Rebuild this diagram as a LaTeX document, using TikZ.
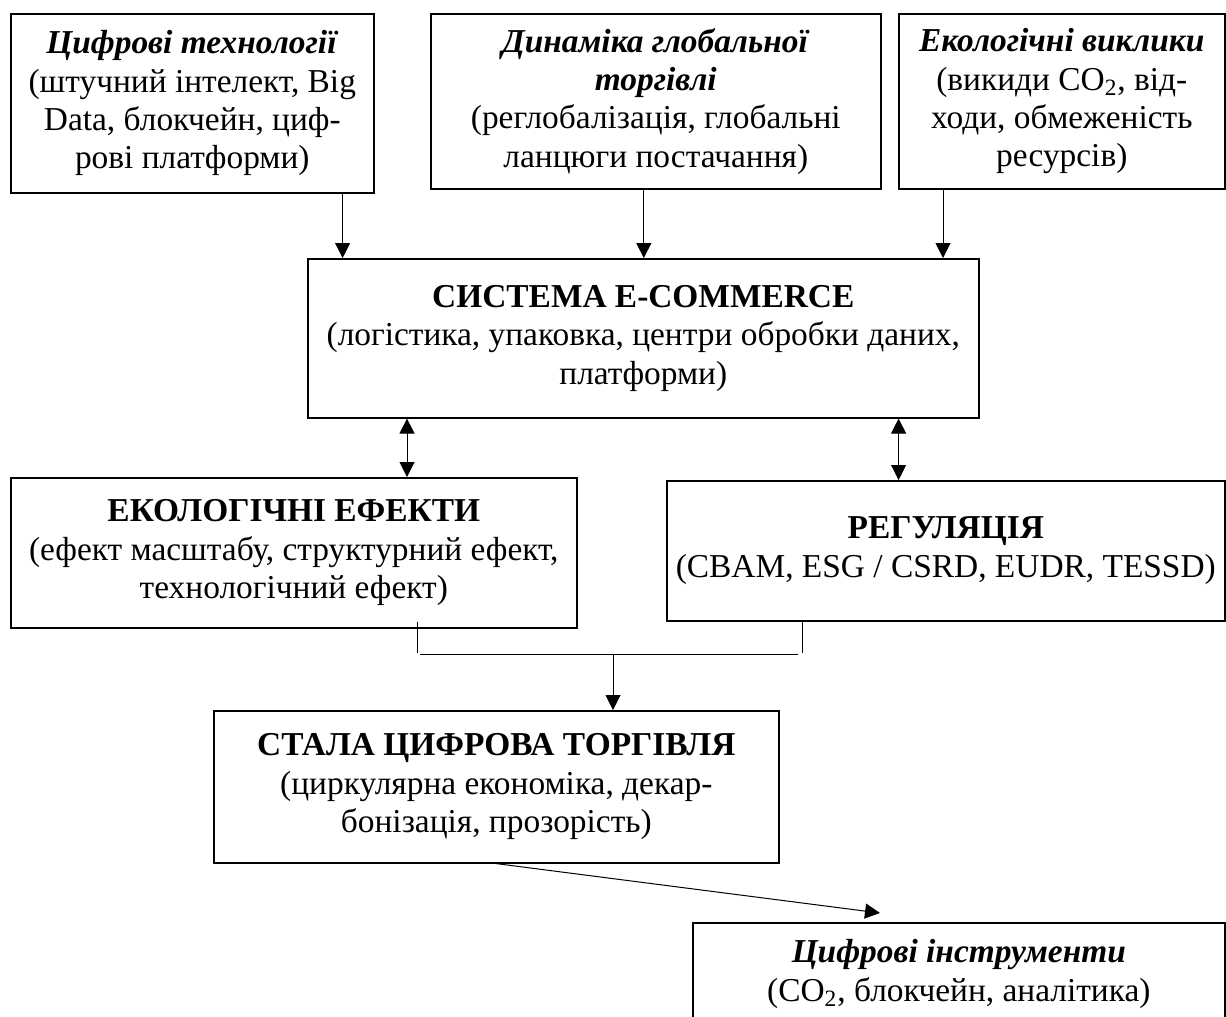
\documentclass[tikz,border=0pt]{standalone}
\usepackage{fontspec}
\setmainfont{Liberation Serif}
\usetikzlibrary{arrows.meta,calc}

\tikzset{
	blok/.style={draw, line width=0.8pt, anchor=north west, align=center, inner sep=2pt, font=\fontsize{16.7}{19.2}\selectfont},
	con/.style={line width=0.5pt},
	arr/.style={con, -{Triangle[width=7.5pt,length=7.5pt]}},
	darr/.style={con, {Triangle[width=7.5pt,length=7.5pt]}-{Triangle[width=7.5pt,length=7.5pt]}},
}
\newcommand{\hd}[1]{\textbf{\textit{#1}}}

\begin{document}
\begin{tikzpicture}[x=0.5pt, y=-0.5pt]
	\useasboundingbox (0,0) rectangle (1226,1017);
	% upper row
	\node [blok, minimum width=181.5pt, minimum height=89.5pt] (tech) at (10,13) {\hd{Цифрові технології}\\(штучний інтелект, Big\\Data, блокчейн, циф-\\рові платформи)};
	\node [blok, minimum width=225pt, minimum height=87.5pt] (trade) at (430,13) {\hd{Динаміка глобальної}\\\hd{торгівлі}\\(реглобалізація, глобальні\\ланцюги постачання)};
	\node [blok, minimum width=163pt, minimum height=87.5pt] (eco) at (898,13) {\hd{Екологічні виклики}\\(викиди CO\textsubscript{2}, від-\\ходи, обмеженість\\ресурсів)};
	% core
	\node [blok, minimum width=335.5pt, minimum height=79.5pt] (core) at (307,258) {\textbf{СИСТЕМА E-COMMERCE}\\(логістика, упаковка, центри обробки даних,\\платформи)};
	\node [blok, minimum width=283pt, minimum height=75pt] (effects) at (10,477) {\textbf{ЕКОЛОГІЧНІ ЕФЕКТИ}\\(ефект масштабу, структурний ефект,\\технологічний ефект)};
	\node [blok, minimum width=279pt, minimum height=70pt] (reg) at (666,480) {\textbf{РЕГУЛЯЦІЯ}\\(CBAM, ESG / CSRD, EUDR, TESSD)};
	% lower part
	\node [blok, minimum width=282.5pt, minimum height=76pt] (sdt) at (213,710) {\textbf{СТАЛА ЦИФРОВА ТОРГІВЛЯ}\\(циркулярна економіка, декар-\\бонізація, прозорість)};
	\node [blok, minimum width=266pt, minimum height=51pt] (tools) at (692,922) {\hd{Цифрові інструменти}\\(CO\textsubscript{2}, блокчейн, аналітика)};

	\draw [arr] ([xshift=-16pt]tech.south east) -- ([xshift=-16pt]tech.south east |- core.north);
	\draw [arr] ([xshift=-6pt]trade.south) -- ([xshift=-6pt]trade.south |- core.north);
	\draw [arr] ([xshift=22.5pt]eco.south west) -- ([xshift=22.5pt]eco.south west |- core.north);
	\draw [darr] ([xshift=50pt]core.south west) -- ([xshift=50pt]core.south west |- effects.north);
	\draw [darr] ([xshift=-40.5pt]core.south east) -- ([xshift=-40.5pt]core.south east |- reg.north);

	% joining the two effects
	\coordinate (jl) at (417,653);
	\coordinate (jr) at (802,653);
	\coordinate (jm) at (613,654);
	\draw [con] ([yshift=3.5pt]jl |- effects.south) -- (jl);
	\draw [con] (jr |- reg.south) -- (jr);
	\draw [con] ([xshift=1.5pt]jm -| jl) -- ([xshift=-2pt]jm -| jr);
	\draw [arr] (jm) -- (jm |- sdt.north);
	\draw [arr] (sdt.south) -- ([xshift=94pt, yshift=4.5pt]tools.north west);
\end{tikzpicture}
\end{document}
